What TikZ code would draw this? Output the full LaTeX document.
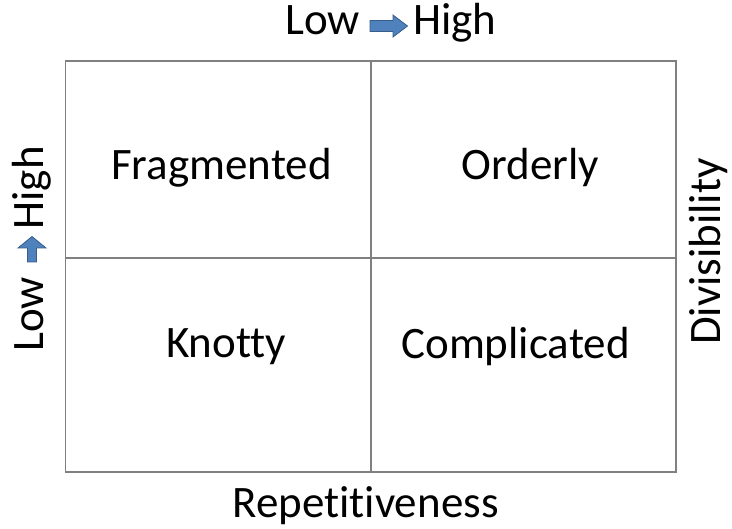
\documentclass[tikz,border=0pt]{standalone}
\usepackage{fontspec}
\setmainfont[Ligatures=NoCommon]{Carlito}
\definecolor{gridline}{RGB}{128,128,128}
\definecolor{arrowfill}{RGB}{79,129,189}
\definecolor{arrowedge}{RGB}{56,93,138}
\begin{document}
\begin{tikzpicture}[x=1pt,y=-1pt,
  label/.style={font=\fontsize{45}{52}\selectfont, inner sep=0pt, anchor=base},
  grid/.style={draw=gridline, line width=1.5pt},
  blockarrow/.style={fill=arrowfill, draw=arrowedge, line width=0.8pt, line join=miter}]
\useasboundingbox (0,0) rectangle (732,529);

% 2x2 matrix
\draw[grid] (65.5,61) rectangle (676,472);
\draw[grid] (371,61) -- (371,472);
\draw[grid] (65.5,258) -- (676,258);

% quadrant labels
\node[label] (frag) at (221.5,180) {Fragmented};
\node[label] (ord)  at (530.5,180) {Orderly};
\node[label] (knot) at (226,358) {Knotty};
\node[label] (comp) at (515.5,359) {Complicated};

% axis titles
\node[label] (rep) at (365.5,518) {Repetitiveness};
\node[label, rotate=90] (div) at (720,251.5) {Divisibility};

% top scale: Low -> High
\node[label, anchor=base east] (lowtop)  at (360,35) {Low};
\node[label, anchor=base west] (hightop) at (413,35) {High};
\draw[blockarrow] (370,20.5) -- (393,20.5) -- (393,15) -- (407.5,26) -- (393,37) -- (393,31.5) -- (370,31.5) -- cycle;

% left scale: Low -> High (upwards)
\node[label, rotate=90, anchor=base west] (lowleft)  at (43,352) {Low};
\node[label, rotate=90, anchor=base east] (highleft) at (43,146) {High};
\draw[blockarrow] (27.5,262) -- (27.5,248) -- (18,248) -- (32,236.5) -- (46,248) -- (36.5,248) -- (36.5,262) -- cycle;
\end{tikzpicture}
\end{document}
